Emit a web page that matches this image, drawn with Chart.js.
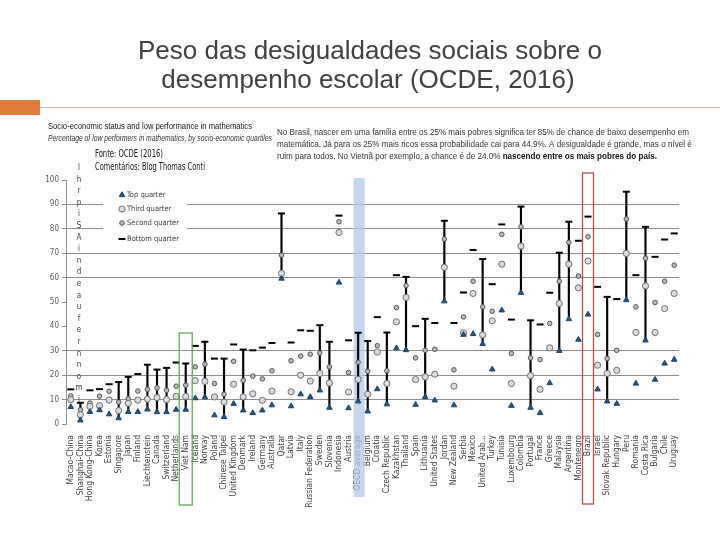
<!DOCTYPE html>
<html>
<head>
<meta charset="utf-8">
<script src="https://cdn.jsdelivr.net/npm/chart.js@4.4.0/dist/chart.umd.min.js"></script>
<style>
  html, body { margin: 0; padding: 0; background: #fff; }
  #wrap { width: 720px; height: 540px; }
</style>
</head>
<body>
<div id="wrap"><canvas id="chart" width="720" height="540"></canvas></div>
<script>
// data (percentage of low performers by socio-economic quarter)
var countries = ['Macao-China', 'Shanghai-China', 'Hong Kong-China', 'Korea', 'Estonia', 'Singapore', 'Japan',
  'Finland', 'Liechtenstein', 'Canada', 'Switzerland', 'Netherlands', 'Viet Nam', 'Iceland', 'Norway', 'Poland',
  'Chinese Taipei', 'United Kingdom', 'Denmark', 'Ireland', 'Germany', 'Australia', 'Qatar', 'Latvia', 'Italy',
  'Russian Federation', 'Sweden', 'Slovenia', 'Indonesia', 'Austria', 'OECD average', 'Belgium', 'Croatia',
  'Czech Republic', 'Kazakhstan', 'Thailand', 'Spain', 'Lithuania', 'United States', 'Jordan', 'New Zealand',
  'Serbia', 'Mexico', 'United Arab...', 'Turkey', 'Tunisia', 'Luxembourg', 'Colombia', 'Portugal', 'France',
  'Greece', 'Malaysia', 'Argentina', 'Montenegro', 'Brazil', 'Israel', 'Slovak Republic', 'Hungary', 'Peru',
  'Romania', 'Costa Rica', 'Bulgaria', 'Chile', 'Uruguay'];

var bottomQuarter = [14.2, 8.7, 13.8, 14.3, 16.3, 17.2, 19.3, 20.5, 24.3, 22.3, 23.0, 25.2, 24.8, 32.0, 33.7, 26.8,
  26.8, 32.6, 30.5, 30.2, 31.3, 33.2, 86.3, 33.4, 38.4, 38.2, 40.5, 33.7, 85.4, 34.3, 37.4, 34.0, 43.8,
  37.5, 61.0, 60.3, 40.1, 43.1, 41.4, 83.3, 41.4, 53.9, 71.3, 67.6, 57.3, 81.8, 42.8, 89.1, 42.5, 40.8,
  53.8, 70.2, 82.9, 75.1, 85.0, 56.2, 52.1, 51.2, 95.2, 61.0, 80.8, 68.5, 75.6, 78.1];
var secondQuarter = [11.5, 5.8, 8.6, 11.4, 13.4, 9.0, 10.4, 13.5, 14.2, 14.8, 13.8, 15.5, 15.9, 23.4, 24.5, 16.6,
  12.2, 25.7, 17.9, 19.6, 18.5, 21.8, 69.2, 25.9, 27.8, 28.6, 29.1, 23.4, 82.9, 21.1, 25.3, 21.6, 32.1,
  21.8, 47.7, 56.7, 27.1, 30.2, 30.6, 75.8, 22.2, 43.9, 58.5, 48.0, 46.2, 77.7, 28.9, 80.8, 27.1, 26.4,
  41.2, 58.5, 74.4, 60.6, 76.7, 36.7, 26.8, 30.2, 84.0, 48.0, 67.9, 49.8, 58.5, 65.1];
var thirdQuarter = [10.0, 3.8, 7.2, 7.5, 9.8, 5.5, 8.5, 9.8, 10.2, 10.8, 10.0, 11.3, 11.3, 17.8, 17.5, 11.1,
  9.0, 16.3, 11.1, 12.4, 9.7, 13.5, 61.7, 13.2, 20.0, 17.6, 20.7, 16.8, 78.5, 13.1, 18.3, 12.2, 29.5,
  16.6, 41.9, 51.9, 18.2, 19.3, 20.4, 64.2, 15.5, 37.4, 53.5, 36.5, 42.3, 65.5, 16.6, 72.9, 19.8, 14.2,
  31.2, 49.4, 65.5, 55.8, 66.8, 24.1, 20.7, 22.0, 69.9, 37.5, 56.6, 37.5, 47.3, 53.5];
var topQuarter = [7.0, 1.5, 5.0, 5.7, 4.0, 2.4, 5.0, 5.0, 6.0, 4.9, 4.9, 5.9, 5.9, 10.6, 11.0, 3.6,
  2.9, 8.3, 5.6, 4.5, 5.6, 7.7, 59.6, 7.3, 12.2, 11.1, 13.8, 6.7, 58.0, 6.5, 9.3, 5.2, 14.3,
  8.1, 31.1, 30.3, 7.9, 11.1, 9.7, 50.3, 7.7, 36.6, 36.9, 32.8, 22.4, 46.6, 7.5, 53.8, 6.7, 4.5,
  16.8, 30.0, 43.0, 34.6, 44.9, 14.2, 9.3, 8.3, 50.8, 16.6, 34.3, 18.2, 24.8, 26.4];

// countries drawn with a range line from bottom to top quarter
var rangeCountries = ['Shanghai-China', 'Singapore', 'Japan', 'Liechtenstein', 'Canada', 'Switzerland', 'Viet Nam',
  'Norway', 'Chinese Taipei', 'Denmark', 'Qatar', 'Sweden', 'Slovenia', 'OECD average', 'Belgium',
  'Czech Republic', 'Thailand', 'Lithuania', 'Jordan', 'United Arab...', 'Colombia', 'Portugal', 'Malaysia',
  'Argentina', 'Slovak Republic', 'Peru', 'Costa Rica'];

var yTicks = [0, 10, 20, 30, 40, 50, 60, 70, 80, 90, 100];
var hiddenGridLines = [0, 40, 50, 100];
var seriesNames = ['Top quarter', 'Third quarter', 'Second quarter', 'Bottom quarter'];

var narrow = "'Liberation Sans Narrow', 'DejaVu Sans Condensed', 'Liberation Sans', Arial, sans-serif";
var sans = "'Liberation Sans', Arial, sans-serif";

var rangeData = countries.map(function(c, i) {
  return rangeCountries.indexOf(c) >= 0 ? [topQuarter[i], bottomQuarter[i]] : null;
});

var styles = {
  top: { pointStyle: 'triangle', radius: 3.2, fill: '#24557f', stroke: '#1c4466', width: 1 },
  third: { pointStyle: 'circle', radius: 3.1, fill: '#d8dce2', stroke: '#6f6f6f', width: 1 },
  second: { pointStyle: 'circle', radius: 2.3, fill: '#b8bcc2', stroke: '#555555', width: 1 },
  bottom: { pointStyle: 'line', radius: 3.5, fill: '#000000', stroke: '#000000', width: 2 }
};

function pointSet(label, data, st, order) {
  return {
    type: 'line',
    label: label,
    data: data,
    showLine: false,
    pointStyle: st.pointStyle,
    pointRadius: st.radius,
    pointBackgroundColor: st.fill,
    pointBorderColor: st.stroke,
    pointBorderWidth: st.width,
    order: order
  };
}

function fitText(ctx, text, x, y, width, font, color) {
  ctx.font = font;
  ctx.fillStyle = color;
  ctx.fillText(text, x, y, width);
}

var slidePlugin = {
  id: 'slide',
  beforeDraw: function(chart) {
    var ctx = chart.ctx;
    ctx.save();
    ctx.fillStyle = '#ffffff';
    ctx.fillRect(0, 0, chart.width, chart.height);
    ctx.restore();
  },
  beforeDatasetsDraw: function(chart) {
    var ctx = chart.ctx;
    var xs = chart.scales.x;
    var cx = xs.getPixelForValue(countries.indexOf('OECD average'));
    ctx.save();
    ctx.fillStyle = 'rgba(178, 201, 232, 0.75)';
    ctx.fillRect(cx - 4.5, 178, 11, 319);
    ctx.restore();
  },
  afterDatasetsDraw: function(chart) {
    var ctx = chart.ctx;
    var xs = chart.scales.x;
    ctx.save();
    // legend box over the grid
    ctx.fillStyle = '#ffffff';
    ctx.fillRect(103, 188, 84, 58);
    var rows = [[styles.top, 195], [styles.third, 209], [styles.second, 223], [styles.bottom, 239]];
    ctx.textBaseline = 'middle';
    rows.forEach(function(r, k) {
      var st = r[0];
      ctx.fillStyle = st.fill;
      ctx.strokeStyle = st.stroke;
      ctx.lineWidth = st.width;
      Chart.helpers.drawPoint(ctx, { pointStyle: st.pointStyle, radius: st.radius, borderWidth: st.width, rotation: 0 }, 122, r[1]);
      fitText(ctx, seriesNames[k], 127, r[1], 60, '7.5px ' + narrow, '#404040');
    });
    // highlight boxes
    var vx = xs.getPixelForValue(countries.indexOf('Viet Nam'));
    ctx.strokeStyle = '#5fa85a';
    ctx.lineWidth = 1.3;
    ctx.strokeRect(vx - 6.5, 333, 13, 172);
    var bx = xs.getPixelForValue(countries.indexOf('Brazil'));
    ctx.strokeStyle = '#b5504a';
    ctx.strokeRect(bx - 5.5, 173, 11, 331);
    ctx.restore();
  },
  afterDraw: function(chart) {
    var ctx = chart.ctx;
    ctx.save();
    // slide header
    ctx.fillStyle = '#e07b3c';
    ctx.fillRect(0, 100, 40, 15);
    ctx.strokeStyle = '#c9b8a8';
    ctx.lineWidth = 1;
    ctx.beginPath();
    ctx.moveTo(40, 107.5);
    ctx.lineTo(720, 107.5);
    ctx.stroke();

    ctx.textAlign = 'center';
    ctx.textBaseline = 'alphabetic';
    fitText(ctx, 'Peso das desigualdades sociais sobre o', 370, 59, 480, '26px ' + sans, '#404040');
    fitText(ctx, 'desempenho escolar (OCDE, 2016)', 368, 88, 416, '26px ' + sans, '#404040');

    ctx.textAlign = 'left';
    fitText(ctx, 'Socio-economic status and low performance in mathematics', 48, 129, 204, '9px ' + sans, '#111111');
    fitText(ctx, 'Percentage of low performers in mathematics, by socio-economic quartiles', 48, 141, 224, 'italic 8.5px ' + sans, '#333333');
    fitText(ctx, 'Fonte: OCDE (2016)', 95, 157, 68, '11px ' + narrow, '#111111');
    fitText(ctx, 'Comentários: Blog Thomas Conti', 95, 170, 110, '11px ' + narrow, '#111111');

    // comment paragraph
    var lines = [
      'No Brasil, nascer em uma família entre os 25% mais pobres significa ter 85% de chance de baixo desempenho em',
      'matemática. Já para os 25% mais ricos essa probabilidade cai para 44,9%. A desigualdade é grande, mas o nível é'
    ];
    ctx.font = '9.5px ' + sans;
    var sx = 412 / ctx.measureText(lines[0]).width;
    ctx.translate(277, 0);
    ctx.scale(sx, 1);
    ctx.fillStyle = '#333333';
    ctx.fillText(lines[0], 0, 135);
    ctx.fillText(lines[1], 0, 147);
    var part = 'ruim para todos. No Vietnã por exemplo, a chance é de 24.0% ';
    ctx.fillText(part, 0, 159);
    var w = ctx.measureText(part).width;
    ctx.font = 'bold 9.5px ' + sans;
    ctx.fillStyle = '#111111';
    ctx.fillText('nascendo entre os mais pobres do país.', w, 159);
    ctx.setTransform(chart.currentDevicePixelRatio, 0, 0, chart.currentDevicePixelRatio, 0, 0);

    // garbled vertical axis title of the source picture
    var letters = ['l', 'h', 'r', 'p', 'i', 'S', 'A', 'i', 'n', 'd', 'e', 'a', 'u', 'f', 'e', 'r', 'n', 'n', 'o', 'm', 'i'];
    ctx.textAlign = 'center';
    ctx.font = '8px ' + narrow;
    ctx.fillStyle = '#404040';
    letters.forEach(function(ch, k) {
      ctx.fillText(ch, 79, 170 + k * 11.6);
    });
    ctx.restore();
  }
};

new Chart(document.getElementById('chart'), {
  data: {
    labels: countries,
    datasets: [
      pointSet(seriesNames[0], topQuarter, styles.top, 1),
      pointSet(seriesNames[1], thirdQuarter, styles.third, 2),
      pointSet(seriesNames[2], secondQuarter, styles.second, 3),
      pointSet(seriesNames[3], bottomQuarter, styles.bottom, 4),
      {
        type: 'bar',
        label: 'range',
        data: rangeData,
        backgroundColor: '#000000',
        barThickness: 1.5,
        order: 10
      }
    ]
  },
  options: {
    responsive: false,
    animation: false,
    layout: { padding: { top: 180, right: 41, bottom: 0, left: 0 } },
    plugins: {
      legend: { display: false },
      tooltip: { enabled: false }
    },
    scales: {
      x: {
        offset: true,
        grid: { display: false },
        border: { display: false },
        ticks: {
          autoSkip: false,
          maxRotation: 90,
          minRotation: 90,
          padding: 3,
          color: '#404040',
          font: { size: 8.5, family: narrow }
        },
        afterFit: function(scale) { scale.height = 116; }
      },
      y: {
        min: 0,
        max: 100,
        afterBuildTicks: function(scale) {
          scale.ticks = yTicks.map(function(v) { return { value: v }; });
        },
        ticks: {
          padding: 3,
          color: '#595959',
          font: { size: 8, family: narrow }
        },
        grid: {
          color: function(c) {
            return hiddenGridLines.indexOf(c.tick.value) >= 0 ? 'rgba(0,0,0,0)' : '#8c8c8c';
          },
          tickColor: '#8c8c8c',
          tickLength: 4
        },
        border: { display: true, color: '#8c8c8c' },
        afterFit: function(scale) { scale.width = 66; }
      }
    }
  },
  plugins: [slidePlugin]
});
</script>
</body>
</html>
